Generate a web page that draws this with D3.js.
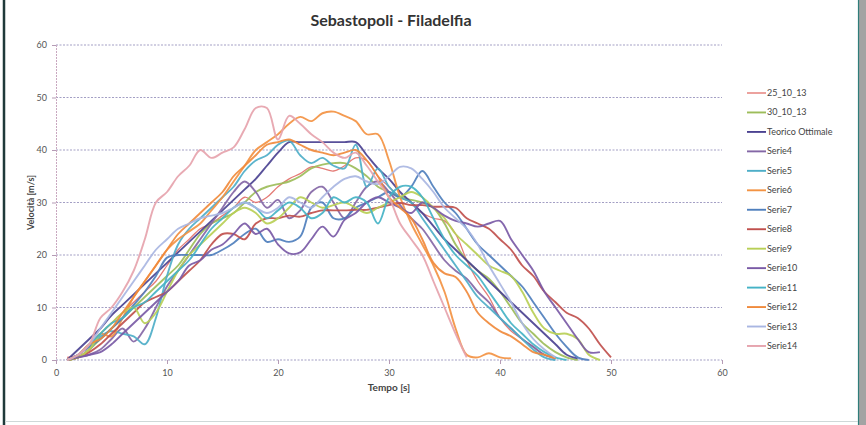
<!DOCTYPE html>
<html>
<head>
<meta charset="utf-8">
<script src="https://cdn.jsdelivr.net/npm/d3@7"></script>
<style>
  body { margin: 0; background: #fff; }
  svg { display: block; font-family: Lato, "Open Sans", sans-serif; }
</style>
</head>
<body>
<div id="chart"></div>
<script>
// tempo in secondi, un valore per ogni serie a ogni secondo (null = nessun dato)
var tempo = [0,1,2,3,4,5,6,7,8,9,10,11,12,13,14,15,16,17,18,19,20,21,22,23,24,25,26,27,28,29,30,31,32,33,34,35,36,37,38,39,40,41,42,43,44,45,46,47,48,49,50];

var s25_10_13 = [null,0.5,1,3,5,7,9,11,13,15,18,21,23,25,26,27.5,29,31,30,31,33,34.5,35.5,36.8,36.5,36,37,38.5,38,35,33,31,30,28,27,26.5,24,19,15,12,8,5.5,4,2.5,1,0.3,null,null,null,null,null];
var s30_10_13 = [null,0,0.5,2,4,6,8,10,12,14,16,18,21,24,26,27,28,30,32,33,33.5,34,35,36.5,37.2,37.5,37.5,36.5,35,33,32,31,30.5,30,29,26,22,19,17,15.5,13,10,7,5,3,1.5,0.5,0,null,null,null];
var teorico = [null,0,2,4,6,8.5,10.5,12.5,14.5,16.5,18.5,20.5,22.5,24.5,26.5,28.5,30.5,32.5,34.5,37,39.5,41.5,41.5,41.5,41.5,41.5,41.5,41.5,39,36.5,34.5,32,30,28,25.5,23,21,19,17,15,13,11,9,7,5,3,1,0.3,null,null,null];
var serie4 = [null,0,0.5,1,2,4,6,3.5,6,10,14,17,20,23,26,29,32,34,32,29,30.5,27,28.5,32,33,30,27,30,33,34,32,29.5,27,25,22,19,17,15.5,13,11,8,6,4,2.5,1,0.3,null,null,null,null,null];
var serie5 = [null,0,0.5,2,4.5,5.5,5,4.5,3,8,16,22,25,27,29,31,33,36,38,39,41,41.8,39,37.5,38.5,37,36.5,41,33,36.5,33,31,30,27,24,21,18,15,12,10,8,6,4,2,0.5,0,null,null,null,null,null];
var serie6 = [null,0,0.5,2,5,4.5,8,12,15,18,21,23,24.5,26,28.5,31,34,37,40,41.5,43,45,46.3,45.5,47,47.3,46.5,45.5,43,43,38,31,26,22,18,13,6,1,0.5,1.3,0.5,0.3,null,null,null,null,null,null,null,null,null];
var serie7 = [null,0,1,2.5,4,6,8,10.5,13,16,19.5,20,20,20,20,21,22.3,24,25,22.5,23,22.5,23.5,29,30,27,27,29,30,31,32,31,33,36,33,30,28,25,22,20,18,16,14,11,8,5,2.5,0.5,0,null,null];
var serie8 = [null,0,0.5,1.5,3,5,7,9,11,12,13,15,17,19,22,24,24,23,26,27,27,27.5,27.3,28,28.5,28.5,28.5,28.6,28.6,29,29.5,29.9,29.5,29.5,29.2,29.2,29,27,26,25,23,21,18,16,13,11,9,8,6,3,0.5];
var serie9 = [null,0,0.5,2,5,7,9,10,7,9,13,17,20,22,24,26,28,29,28,26,27,29,31,30,29,29.5,30,29,28,29,30,31,32,31,29,27,24,22,20,18,17,16,13,9,6,5,5,4,1,0,null];
var serie10 = [null,0,0.5,1,1.5,3,5,7,9,11,13,15,18,19,21,22,24,26,24,25,22,20.3,20.5,23,25.4,23.5,26.7,28,30,31,30,29,28,30,29,27.5,26.5,26,25.4,26,26.5,23,20,17,13,10,7,4,1.5,1.5,null];
var serie11 = [null,0,1,3,5,7,8,10,11,13,15,17,19,22,25,27,29,30,29,27,28.5,30,29,27,28,31,30,31,30,26,31,33,33,31,27,23,20,18,16,13,10,7,5,3,1.5,0.5,0,null,null,null,null];
var serie12 = [null,0,1,3,4,6,9,12,15,18,21,24,26,28,30,32,35,37,39,41,41.5,42,41,40,39.5,39,39.5,40,38,35,31,29,27,23,18.5,16.5,15.8,13,9,7,5.5,4.5,3,1.5,1,0.3,null,null,null,null,null];
var serie13 = [null,0,1,3,6,9,12,15,18,21,23,25,26,27,27.5,28,29,30,29,28,29,31,30,29,31,33,34.5,35,34,33.5,35,36.8,36.5,34.5,32,29,27,25,22,18,14.5,11,7,4,2,0.5,null,null,null,null,null];
var serie14 = [null,0,1,3,8,10,13,17,23,30,32,35,37,40,38.5,39.5,40.5,44,48,48,42,46.5,45,43,41.5,39.5,38.5,39.5,37,34,31,26,23,20,15,10,5,0.5,null,null,null,null,null,null,null,null,null,null,null,null,null];

var nomi = ["25_10_13","30_10_13","Teorico Ottimale","Serie4","Serie5","Serie6","Serie7","Serie8","Serie9","Serie10","Serie11","Serie12","Serie13","Serie14"];
var colori = ["#e2706a","#9dbd5a","#4b4291","#8467a6","#4eaec8","#f39343","#4f7fbd","#c0504d","#b8cf56","#7a5aa6","#45b3c6","#f08a3c","#a9b6e2","#e6a3ad"];
var valori = [s25_10_13,s30_10_13,teorico,serie4,serie5,serie6,serie7,serie8,serie9,serie10,serie11,serie12,serie13,serie14];

var xTicks = [0,10,20,30,40,50,60];
var yTicks = [0,10,20,30,40,50,60];

var W = 866, H = 425;
var margin = {top: 45, right: 144, bottom: 65, left: 56};

var svg = d3.select("#chart").append("svg")
  .attr("width", W)
  .attr("height", H);

svg.append("rect").attr("width", W).attr("height", H).attr("fill", "#fff");

// bordi della scansione
svg.append("line").attr("x1", 4).attr("x2", 4).attr("y1", 0).attr("y2", H)
  .attr("stroke", "#1f3a3a").attr("stroke-width", 2.5);
svg.append("rect").attr("x", 858).attr("y", 0).attr("width", 8).attr("height", H).attr("fill", "#a3a3a3");
svg.append("line").attr("x1", 858.5).attr("x2", 858.5).attr("y1", 0).attr("y2", H)
  .attr("stroke", "#2e7d7a").attr("stroke-width", 1.2);
svg.append("line").attr("x1", 5).attr("x2", 858).attr("y1", 421.5).attr("y2", 421.5)
  .attr("stroke", "#cfd8d8").attr("stroke-width", 1);

var x = d3.scaleLinear().domain([0, 60]).range([margin.left, W - margin.right]);
var y = d3.scaleLinear().domain([0, 60]).range([H - margin.bottom, margin.top]);

// griglia
svg.append("g")
  .selectAll("line")
  .data(yTicks)
  .enter().append("line")
    .attr("x1", x(0)).attr("x2", x(60))
    .attr("y1", function(d){ return y(d); })
    .attr("y2", function(d){ return y(d); })
    .attr("stroke", "#a39fc4")
    .attr("stroke-width", 1)
    .attr("stroke-dasharray", "2,1.5");

// asse y
var yAxis = svg.append("g")
  .attr("transform", "translate(" + x(0) + ",0)")
  .call(d3.axisLeft(y).tickValues(yTicks).tickSize(4).tickPadding(5));
yAxis.select(".domain").attr("stroke", "#c9a8c0").attr("stroke-dasharray", "2,1");
yAxis.selectAll(".tick line").attr("stroke", "#b59bb5");
yAxis.selectAll("text").attr("fill", "#555").attr("font-size", 9).attr("font-family", "Lato, sans-serif");

// asse x
var xAxis = svg.append("g")
  .attr("transform", "translate(0," + y(0) + ")")
  .call(d3.axisBottom(x).tickValues(xTicks).tickSize(4).tickPadding(6));
xAxis.select(".domain").remove();
xAxis.selectAll(".tick line").attr("stroke", "#b59bb5");
xAxis.selectAll("text").attr("fill", "#555").attr("font-size", 9).attr("font-family", "Lato, sans-serif");

// serie
var line = d3.line()
  .defined(function(d){ return d != null; })
  .x(function(d, i){ return x(tempo[i]); })
  .y(function(d){ return y(d); })
  .curve(d3.curveCatmullRom.alpha(0.5));

svg.append("g")
  .selectAll("path")
  .data(valori)
  .enter().append("path")
    .attr("d", line)
    .attr("fill", "none")
    .attr("stroke", function(d, i){ return colori[i]; })
    .attr("stroke-width", function(d, i){ return i === 0 ? 1.3 : 1.9; })
    .attr("stroke-opacity", 0.92)
    .attr("stroke-linejoin", "round");

// titolo ed etichette
svg.append("text")
  .attr("x", 391).attr("y", 26)
  .attr("text-anchor", "middle")
  .attr("font-size", 16).attr("font-weight", "bold").attr("fill", "#333")
  .text("Sebastopoli - Filadelfia");

svg.append("text")
  .attr("transform", "translate(34," + y(30) + ") rotate(-90)")
  .attr("text-anchor", "middle")
  .attr("font-size", 9).attr("font-weight", "bold").attr("fill", "#444")
  .text("Velocità [m/s]");

svg.append("text")
  .attr("x", x(30)).attr("y", 391)
  .attr("text-anchor", "middle")
  .attr("font-size", 10).attr("font-weight", "bold").attr("fill", "#444")
  .text("Tempo [s]");

// legenda
var legend = svg.append("g")
  .selectAll("g")
  .data(nomi)
  .enter().append("g")
    .attr("transform", function(d, i){ return "translate(747," + (93 + i * 19.46) + ")"; });

legend.append("line")
  .attr("x1", 0).attr("x2", 19)
  .attr("stroke", function(d, i){ return colori[i]; })
  .attr("stroke-width", function(d, i){ return i === 0 ? 1.3 : 1.9; });

legend.append("text")
  .attr("x", 20).attr("y", 3)
  .attr("font-size", 9).attr("fill", "#444")
  .text(function(d){ return d; });
</script>
</body>
</html>
